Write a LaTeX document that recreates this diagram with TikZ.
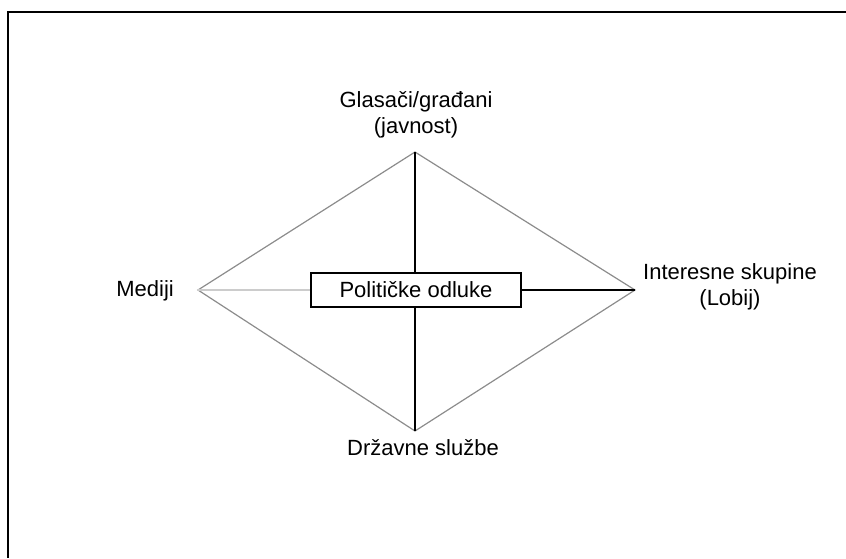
\documentclass[tikz,border=0pt]{standalone}
\usepackage{fontspec}
\setmainfont{Liberation Sans}
\begin{document}
\begin{tikzpicture}[x=1pt,y=-1pt,
  every node/.style={font=\fontsize{22}{26.5}\selectfont, inner sep=0pt},
  label/.style={align=center},
  edge/.style={draw=black!45, line width=1.2pt},
  spoke/.style={draw=black, line width=1.6pt},
  faint/.style={draw=black!20, line width=2pt},
  decision/.style={draw=black, line width=1.6pt, minimum width=210pt, minimum height=34pt}]
  \useasboundingbox (0,0) rectangle (846,558);
  % frame
  \draw[line width=2pt] (846,12) -- (8,12) -- (8,558);
  % diamond corners
  \coordinate (top) at (415,152);
  \coordinate (left) at (198,290);
  \coordinate (right) at (635,290);
  \coordinate (bottom) at (415,431);
  \draw[edge] (top) -- (right) -- (bottom) -- (left) -- cycle;
  % centre box
  \node[decision] (box) at (416,290) {Političke odluke};
  \draw[spoke] (top) -- (top |- box.north);
  \draw[spoke] (bottom) -- (bottom |- box.south);
  \draw[spoke] (box.east) -- (right);
  \draw[faint] (left) -- (box.west);
  % labels
  \node[label, anchor=north] (voters) at (416,91) {Glasači/građani\\(javnost)};
  \node[anchor=base east] (media) at (174,296) {Mediji};
  \node[label, anchor=north] (lobby) at (730,263) {Interesne skupine\\(Lobij)};
  \node[anchor=base] (services) at (423,455) {Državne službe};
\end{tikzpicture}
\end{document}
